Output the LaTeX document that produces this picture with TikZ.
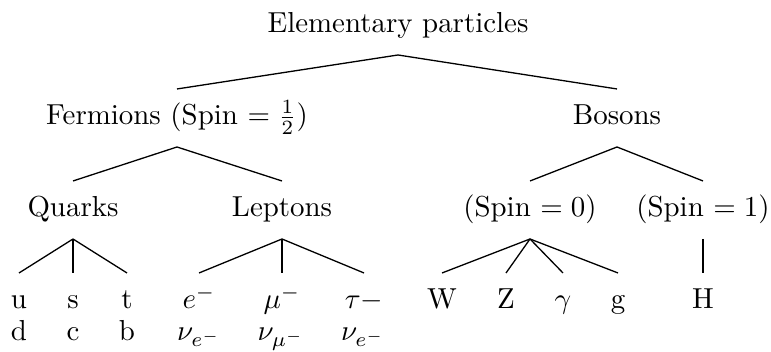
\documentclass[tikz,border=0pt]{standalone}
\begin{document}
\begin{tikzpicture}[x=0.346pt,y=-0.346pt,
  tn/.style={anchor=base,inner sep=0pt,outer sep=0pt,text height=12.46pt,text depth=7.61pt},
  ln/.style={anchor=base,inner sep=0pt,outer sep=0pt},
  br/.style={line width=0.45pt}]
\useasboundingbox (0,0) rectangle (771,352);
% level 0
\node[tn] (root) at (398,33) {Elementary particles};
% level 1
\node[tn] (fer) at (177,125) {Fermions (Spin $=\frac{1}{2}$)};
\node[tn] (bos) at (617,125) {Bosons};
% level 2
\node[tn] (qua) at (73,217) {Quarks};
\node[tn] (lep) at (282,217) {Leptons};
\node[tn] (s0) at (530,217) {(Spin $=0$)};
\node[tn] (s1) at (703,217) {(Spin $=1$)};
% leaves row 1
\node[tn] (u) at (19,309) {u};
\node[tn] (s) at (73,309) {s};
\node[tn] (t) at (127,309) {t};
\node[tn] (e) at (199,309) {$e^-$};
\node[tn] (mu) at (282,309) {$\mu^-$};
\node[tn] (tau) at (364,309) {$\tau-$};
\node[tn] (W) at (442,309) {W};
\node[tn] (Z) at (506,309) {Z};
\node[tn] (gam) at (563,309) {$\gamma$};
\node[tn] (g) at (618,309) {g};
\node[tn] (H) at (703,309) {H};
% leaves row 2
\node[ln] (d) at (19,341) {d};
\node[ln] (c) at (73,341) {c};
\node[ln] (b) at (127,341) {b};
\node[ln] (nue) at (199,341) {$\nu_{e^-}$};
\node[ln] (numu) at (281,341) {$\nu_{\mu^-}$};
\node[ln] (nue2) at (363,341) {$\nu_{e^-}$};
% branches
\draw[br] (fer.north) -- (root.south) -- (bos.north);
\draw[br] (qua.north) -- (fer.south) -- (lep.north);
\draw[br] (s0.north) -- (bos.south) -- (s1.north);
\draw[br] (qua.south) -- (u.north);
\draw[br] (qua.south) -- (s.north);
\draw[br] (qua.south) -- (t.north);
\draw[br] (lep.south) -- (e.north);
\draw[br] (lep.south) -- (mu.north);
\draw[br] (lep.south) -- (tau.north);
\draw[br] (s0.south) -- (W.north);
\draw[br] (s0.south) -- (Z.north);
\draw[br] (s0.south) -- (gam.north);
\draw[br] (s0.south) -- (g.north);
\draw[br] (s1.south) -- (H.north);
\end{tikzpicture}
\end{document}
